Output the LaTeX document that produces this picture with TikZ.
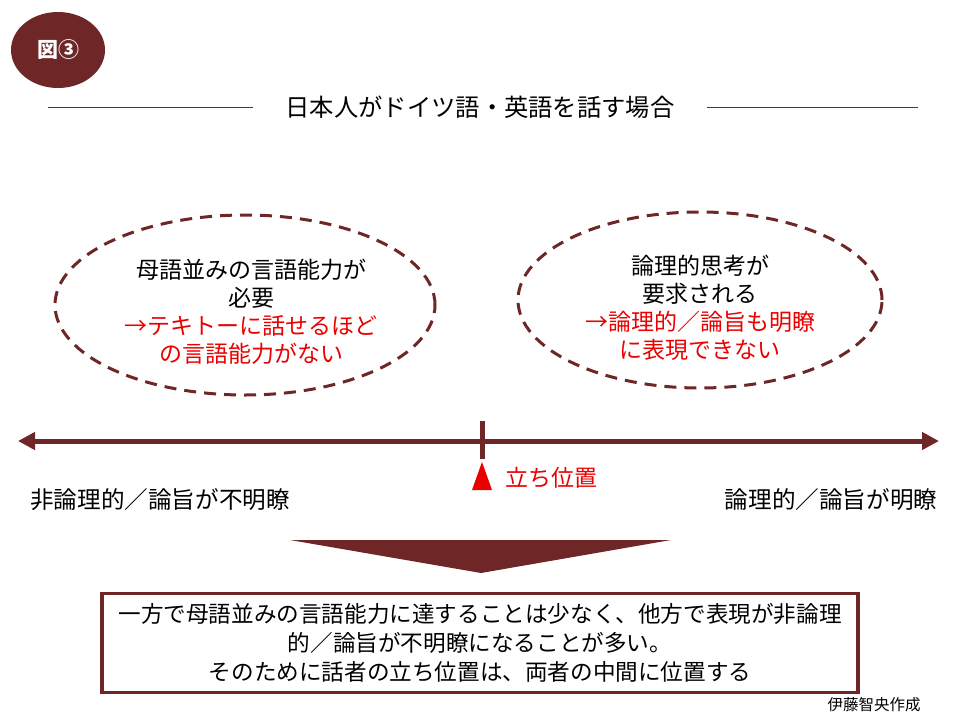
\documentclass[tikz,border=0pt]{standalone}
\usepackage{fontspec}
\setmainfont{Noto Sans CJK JP}
\usetikzlibrary{positioning, arrows.meta, shapes.geometric}
\definecolor{kuri}{RGB}{110,38,38}
\definecolor{aka}{RGB}{235,0,0}

\tikzset{
  txt/.style={font=\fontsize{23}{28}\selectfont, inner sep=0pt, align=center},
  wolke/.style={draw=kuri, line width=3pt, dash pattern=on 12pt off 8pt, ellipse, inner sep=0pt},
  achse/.style={draw=kuri, line width=5pt, {Triangle[length=17pt,width=17pt]}-{Triangle[length=17pt,width=17pt]}},
  kasten/.style={draw=kuri, line width=3.5pt, inner sep=0pt}
}

\begin{document}
\begin{tikzpicture}[x=1pt, y=-1pt]
    \useasboundingbox (0,0) rectangle (960,720);

    % badge
    \node[ellipse, fill=kuri, minimum width=94pt, minimum height=76pt, inner sep=0pt] (zu) at (58,50) {};
    \node[font=\fontsize{21}{21}\selectfont\bfseries, text=white, inner sep=0pt] at (zu.center) {図③};

    % title
    \node[txt, font=\fontsize{24.3}{24}\selectfont] (titel) at (480,107) {日本人がドイツ語・英語を話す場合};
    \coordinate (t1) at (48,107);
    \coordinate (t2) at (253,107);
    \coordinate (t3) at (707,107);
    \coordinate (t4) at (918,107);
    \draw[kuri, line width=0.8pt] (t1) -- (t2);
    \draw[kuri, line width=0.8pt] (t3) -- (t4);

    % the two clouds
    \node[wolke, minimum width=380pt, minimum height=180pt] (links) at (245,305) {};
    \node[txt] (ltext) at (251,312) {母語並みの言語能力が\\必要\\
      \textcolor{aka}{→テキトーに話せるほど}\\\textcolor{aka}{の言語能力がない}};
    \node[wolke, minimum width=364pt, minimum height=176pt] (rechts) at (700,300) {};
    \node[txt] (rtext) at (700,308) {論理的思考が\\要求される\\
      \textcolor{aka}{→論理的／論旨も明瞭}\\\textcolor{aka}{に表現できない}};

    % axis
    \coordinate (aw) at (18,441);
    \coordinate (ao) at (939,441);
    \draw[achse] (aw) -- (ao);
    \coordinate (m1) at (482,421);
    \coordinate (m2) at (482,459);
    \draw[kuri, line width=5pt] (m1) -- (m2);
    \fill[aka] (482,462) -- (492,490) -- (472,490) -- cycle;
    \node[txt] (stand) at (551,478) {\textcolor{aka}{立ち位置}};

    \node[txt, font=\fontsize{23.6}{24}\selectfont] (unlog) at (160,500) {非論理的／論旨が不明瞭};
    \node[txt, font=\fontsize{23.6}{24}\selectfont] (log) at (831,500) {論理的／論旨が明瞭};

    % down arrow and conclusion
    \fill[kuri] (290,540) -- (671,540) -- (481,573) -- cycle;
    \node[kasten, minimum width=756pt, minimum height=99pt] (fazit) at (480,643) {};
    \node[txt, font=\fontsize{22.6}{29}\selectfont] at (fazit.center)
      {一方で母語並みの言語能力に達することは少なく、他方で表現が非論理\\
       的／論旨が不明瞭になることが多い。\\
       そのために話者の立ち位置は、両者の中間に位置する};

    \node[inner sep=0pt, font=\fontsize{15.5}{15.5}\selectfont] (autor) at (874,705) {伊藤智央作成};
\end{tikzpicture}
\end{document}
